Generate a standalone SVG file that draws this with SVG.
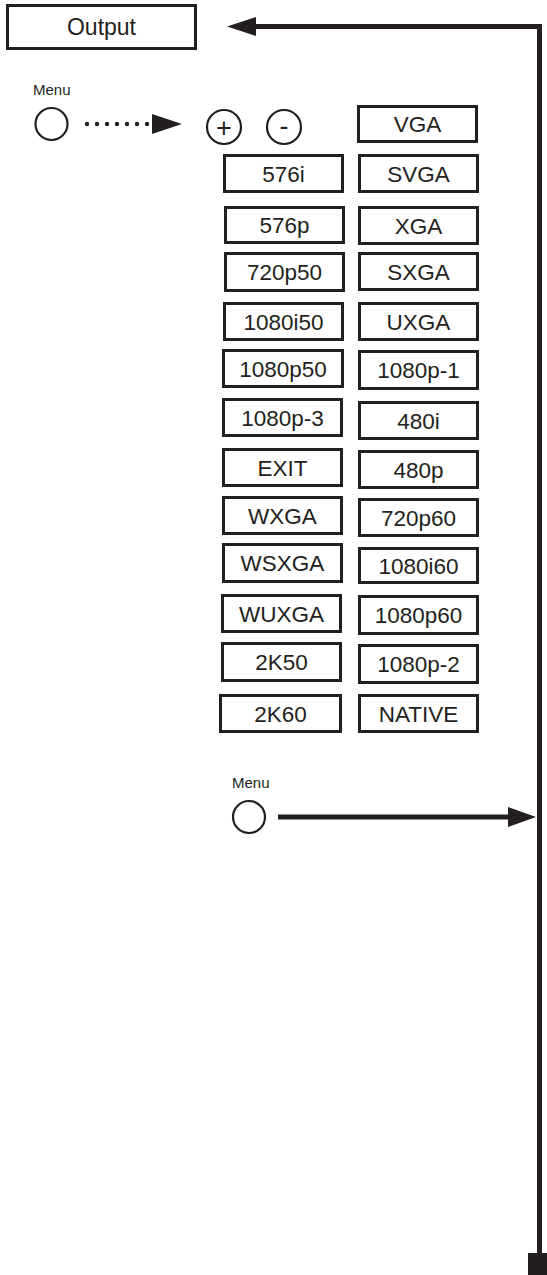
<svg xmlns="http://www.w3.org/2000/svg" width="547" height="1275" viewBox="0 0 547 1275">
<style>
.box{fill:#fff;stroke:#231f20;stroke-width:3}
.lbl{font-family:"Liberation Sans",Arial,sans-serif;font-size:22.5px;fill:#231f20;text-anchor:middle}
.menu{font-family:"Liberation Sans",Arial,sans-serif;font-size:15px;fill:#231f20}
.btn{fill:none;stroke:#231f20;stroke-width:2.2}
.sym{font-family:"Liberation Sans",Arial,sans-serif;font-size:27px;fill:#231f20;text-anchor:middle}
.wire{fill:none;stroke:#231f20;stroke-width:5}
.head{fill:#231f20}
</style>
<rect width="547" height="1275" fill="#fff"/>
<g id="connectors">
<path class="wire" d="M254 26.5 H539.5 V1256"/>
<polygon class="head" points="227,26.5 256,17 256,36"/>
<rect class="head" x="528" y="1253" width="19" height="22"/>
<path class="wire" d="M278 817 H510"/>
<polygon class="head" points="508,807 536,817 508,827"/>
<g class="head">
<circle cx="87" cy="124" r="2.2"/><circle cx="97" cy="124" r="2.2"/><circle cx="107" cy="124" r="2.2"/><circle cx="117" cy="124" r="2.2"/><circle cx="127" cy="124" r="2.2"/><circle cx="137" cy="124" r="2.2"/><circle cx="147" cy="124" r="2.2"/>
</g>
<polygon class="head" points="152,114 182,124 152,134"/>
</g>
<g id="output"><rect class="box" x="7.5" y="5.5" width="188" height="43"/><text class="lbl" x="101.5" y="35" style="font-size:23px">Output</text></g>
<g id="menu1"><text class="menu" x="33" y="95">Menu</text><circle class="btn" cx="51.5" cy="124" r="16"/></g>
<g id="plus"><circle class="btn" cx="224" cy="127" r="17"/><text class="sym" x="224" y="136.5">+</text></g>
<g id="minus"><circle class="btn" cx="284" cy="127" r="17"/><text class="sym" x="284" y="134.5">-</text></g>
<g id="menu2"><text class="menu" x="232" y="788">Menu</text><circle class="btn" cx="249" cy="817" r="16"/></g>
<g id="b576i"><rect class="box" x="224.5" y="155.5" width="118" height="36"/><text class="lbl" x="283.5" y="181.5">576i</text></g>
<g id="b576p"><rect class="box" x="225.5" y="207.5" width="118" height="35"/><text class="lbl" x="284.5" y="233">576p</text></g>
<g id="b720p50"><rect class="box" x="225.5" y="253.5" width="118" height="37"/><text class="lbl" x="284.5" y="280">720p50</text></g>
<g id="b1080i50"><rect class="box" x="224.5" y="303.5" width="118" height="36"/><text class="lbl" x="283.5" y="329.5">1080i50</text></g>
<g id="b1080p50"><rect class="box" x="223.5" y="350.5" width="119" height="36"/><text class="lbl" x="283" y="376.5">1080p50</text></g>
<g id="b1080p3"><rect class="box" x="223.5" y="399.5" width="118" height="36"/><text class="lbl" x="282.5" y="425.5">1080p-3</text></g>
<g id="bexit"><rect class="box" x="223.5" y="449.5" width="118" height="36"/><text class="lbl" x="282.5" y="475.5">EXIT</text></g>
<g id="bwxga"><rect class="box" x="223.5" y="497.5" width="118" height="36"/><text class="lbl" x="282.5" y="523.5">WXGA</text></g>
<g id="bwsxga"><rect class="box" x="223.5" y="544.5" width="118" height="37"/><text class="lbl" x="282.5" y="571">WSXGA</text></g>
<g id="bwuxga"><rect class="box" x="222.5" y="595.5" width="118" height="36"/><text class="lbl" x="281.5" y="621.5">WUXGA</text></g>
<g id="b2k50"><rect class="box" x="222.5" y="643.5" width="118" height="37"/><text class="lbl" x="281.5" y="670">2K50</text></g>
<g id="b2k60"><rect class="box" x="220.5" y="695.5" width="120" height="36"/><text class="lbl" x="280.5" y="721.5">2K60</text></g>
<g id="bvga"><rect class="box" x="358.5" y="106.5" width="118" height="35"/><text class="lbl" x="417.5" y="132">VGA</text></g>
<g id="bsvga"><rect class="box" x="359.5" y="155.5" width="118" height="36"/><text class="lbl" x="418.5" y="181.5">SVGA</text></g>
<g id="bxga"><rect class="box" x="359.5" y="207.5" width="118" height="36"/><text class="lbl" x="418.5" y="233.5">XGA</text></g>
<g id="bsxga"><rect class="box" x="359.5" y="253.5" width="118" height="36"/><text class="lbl" x="418.5" y="279.5">SXGA</text></g>
<g id="buxga"><rect class="box" x="359.5" y="303.5" width="118" height="36"/><text class="lbl" x="418.5" y="329.5">UXGA</text></g>
<g id="b1080p1"><rect class="box" x="359.5" y="351.5" width="118" height="37"/><text class="lbl" x="418.5" y="378">1080p-1</text></g>
<g id="b480i"><rect class="box" x="359.5" y="402.5" width="118" height="36"/><text class="lbl" x="418.5" y="428.5">480i</text></g>
<g id="b480p"><rect class="box" x="359.5" y="451.5" width="118" height="36"/><text class="lbl" x="418.5" y="477.5">480p</text></g>
<g id="b720p60"><rect class="box" x="359.5" y="499.5" width="118" height="36"/><text class="lbl" x="418.5" y="525.5">720p60</text></g>
<g id="b1080i60"><rect class="box" x="359.5" y="548.5" width="118" height="34"/><text class="lbl" x="418.5" y="573.5">1080i60</text></g>
<g id="b1080p60"><rect class="box" x="359.5" y="596.5" width="118" height="37"/><text class="lbl" x="418.5" y="623">1080p60</text></g>
<g id="b1080p2"><rect class="box" x="359.5" y="645.5" width="118" height="37"/><text class="lbl" x="418.5" y="672">1080p-2</text></g>
<g id="bnative"><rect class="box" x="359.5" y="695.5" width="118" height="36"/><text class="lbl" x="418.5" y="721.5">NATIVE</text></g>
</svg>
